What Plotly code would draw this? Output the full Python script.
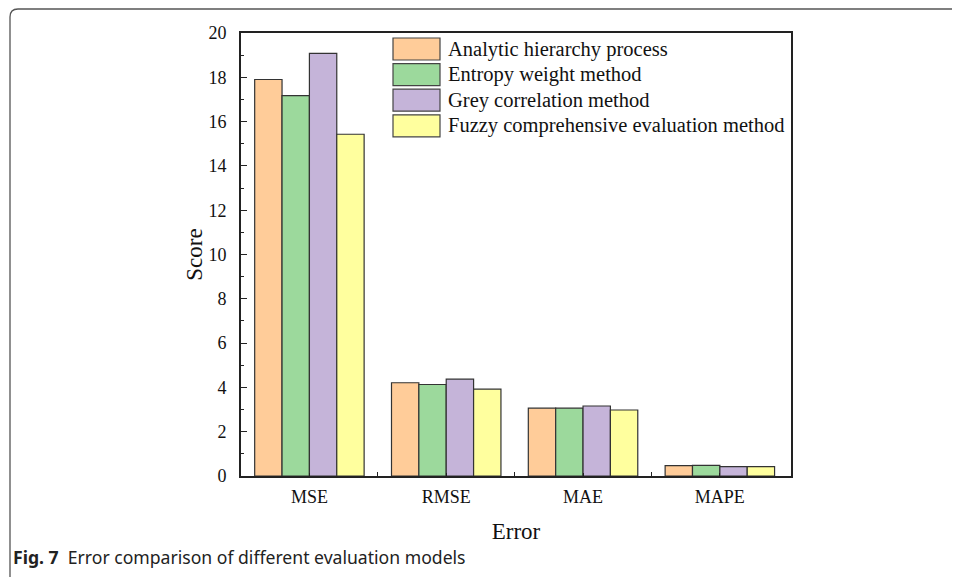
import plotly.graph_objects as go

# ---- data ----
categories = ["MSE", "RMSE", "MAE", "MAPE"]
series_names = [
    "Analytic hierarchy process",
    "Entropy weight method",
    "Grey correlation method",
    "Fuzzy comprehensive evaluation method",
]
ahp_values = [17.9, 4.21, 3.06, 0.47]
entropy_values = [17.17, 4.13, 3.06, 0.48]
grey_values = [19.08, 4.37, 3.16, 0.42]
fuzzy_values = [15.43, 3.92, 2.98, 0.42]
series_values = [ahp_values, entropy_values, grey_values, fuzzy_values]
colors = ["#FFCC99", "#9CD99C", "#C5B4D9", "#FFFF9E"]
y_ticks = list(range(0, 21, 2))

# ---- layout geometry ----
OFF = 8  # page body margin offset
W, H = 960 - OFF, 577 - OFF
# plot box edges in page px
L, R, T, B = 241, 791, 33, 476


def px_x(px):
    return (px - L) / (R - L)


def px_y(py):
    return (B - py) / (B - T)


serif = "Liberation Serif, Times New Roman, serif"
x_pos = list(range(len(categories)))

fig = go.Figure()
for name, vals, col in zip(series_names, series_values, colors):
    fig.add_trace(go.Bar(
        x=x_pos, y=vals, name=name,
        marker=dict(color=col, line=dict(color="#333333", width=1.2)),
        showlegend=False,
    ))

shapes = []
annotations = []

# custom legend (large swatches like the reference)
for i, (name, col) in enumerate(zip(series_names, colors)):
    top = 38 + i * 25.6
    bot = top + 22
    shapes.append(dict(type="rect", xref="paper", yref="paper",
                       x0=px_x(393), x1=px_x(440), y0=px_y(bot), y1=px_y(top),
                       fillcolor=col, line=dict(color="#444444", width=1.2)))
    annotations.append(dict(xref="paper", yref="paper", x=px_x(446),
                            y=px_y((top + bot) / 2), text=name, showarrow=False,
                            xanchor="left", yanchor="middle",
                            font=dict(family=serif, size=20.5, color="#111111")))

# outer rounded frame
r = 8
x0, y0 = px_x(10), px_y(9)
x1, y1 = px_x(975), px_y(590)
rx, ry = r / (R - L), r / (B - T)
path = (f"M {x1},{y0} L {x0 + rx},{y0} Q {x0},{y0} {x0},{y0 - ry} "
        f"L {x0},{y1 + ry} Q {x0},{y1} {x0 + rx},{y1} L {x1},{y1}")
shapes.append(dict(type="path", xref="paper", yref="paper", path=path,
                   line=dict(color="#555555", width=1.3)))

# caption
annotations.append(dict(xref="paper", yref="paper", x=px_x(11), y=px_y(557),
                        text="<b>Fig. 7</b>  Error comparison of different evaluation models",
                        showarrow=False, xanchor="left", yanchor="middle",
                        font=dict(family="Noto Sans, Open Sans, sans-serif", size=17.6,
                                  color="#222222")))

fig.update_layout(
    width=W, height=H,
    margin=dict(l=L - OFF, r=W - (R - OFF), t=T - OFF, b=H - (B - OFF)),
    paper_bgcolor="white", plot_bgcolor="white",
    barmode="group", bargap=0.2, bargroupgap=0,
    shapes=shapes, annotations=annotations,
    font=dict(family=serif, color="#111111"),
)
fig.update_xaxes(
    range=[-0.5, 3.52], tickmode="array", tickvals=x_pos, ticktext=categories,
    ticks="inside", ticklen=3, tickwidth=1.3, tickcolor="#222222",
    minor=dict(tickmode="array", tickvals=[0.5, 1.5, 2.5], ticks="inside",
               ticklen=4, tickwidth=1.3, tickcolor="#222222"),
    showline=True, linecolor="#222222", linewidth=1.6, mirror=True,
    showgrid=False, zeroline=False,
    tickfont=dict(family=serif, size=18, color="#111111"),
    ticklabelstandoff=4,
    title=dict(text="Error", font=dict(family=serif, size=23, color="#111111"),
               standoff=16),
)
fig.update_yaxes(
    range=[0, 20], tickmode="array", tickvals=y_ticks,
    ticks="inside", ticklen=6, tickwidth=1.3, tickcolor="#222222",
    minor=dict(dtick=1, tick0=1, ticks="inside", ticklen=3.5, tickwidth=1.3,
               tickcolor="#222222"),
    showline=True, linecolor="#222222", linewidth=1.6, mirror=True,
    showgrid=False, zeroline=False,
    tickfont=dict(family=serif, size=18, color="#111111"),
    ticklabelstandoff=9,
    title=dict(text="Score", font=dict(family=serif, size=23, color="#111111"),
               standoff=0),
)

fig.write_html("out.html")
